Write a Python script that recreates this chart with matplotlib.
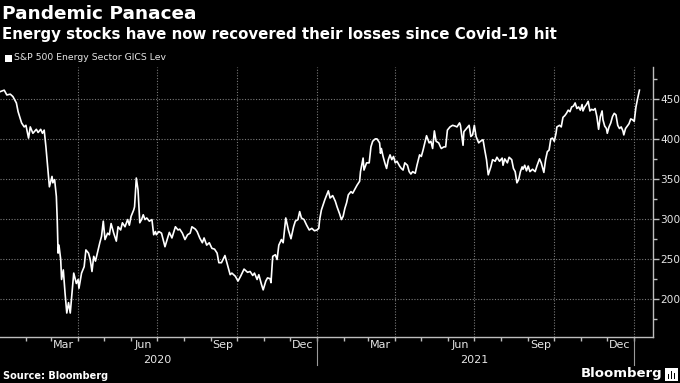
import matplotlib
matplotlib.use('Agg')
import matplotlib.pyplot as plt
import matplotlib.dates as mdates
import matplotlib.transforms as mtransforms
from matplotlib.patches import Rectangle
import pandas as pd

# S&P 500 Energy Sector GICS level
# day offsets counted from 2020-01-01
days = [1, 6, 9, 13, 16, 20, 22, 26, 29, 31, 34, 36, 39, 43, 45, 48, 50, 52, 54, 56,
        58, 61, 62, 64, 66, 67, 68, 69, 71, 72, 74, 76, 78, 80, 82, 84, 86, 89, 91, 92,
        95, 98, 100, 103, 105, 107, 109, 111, 114, 116, 118, 120, 122, 125, 127, 129, 132, 135, 137, 140,
        142, 145, 148, 150, 152, 155, 156, 158, 160, 162, 164, 166, 168, 170, 173, 176, 178, 180, 181, 184,
        187, 191, 196, 199, 203, 206, 208, 211, 214, 217, 220, 222, 226, 228, 231, 234, 236, 239, 242, 245,
        248, 251, 253, 256, 260, 263, 266, 268, 272, 275, 278, 282, 286, 289, 292, 294, 297, 299, 302, 304,
        307, 309, 312, 313, 315, 318, 320, 322, 325, 327, 330, 333, 336, 339, 341, 344, 346, 348, 351, 354,
        357, 360, 363, 366, 368, 369, 371, 375, 379, 381, 384, 387, 389, 392, 394, 396, 398, 400, 402, 405,
        407, 410, 412, 415, 416, 419, 420, 423, 426, 428, 430, 433, 435, 438, 439, 440, 442, 444, 446, 448,
        450, 452, 454, 456, 458, 461, 463, 465, 467, 470, 472, 474, 476, 479, 481, 484, 486, 488, 490, 492,
        495, 497, 499, 501, 503, 506, 508, 509, 512, 514, 516, 519, 522, 525, 527, 530, 531, 534, 535, 538,
        541, 543, 545, 547, 549, 552, 554, 557, 559, 561, 563, 566, 568, 571, 573, 576, 579, 580, 582, 585,
        587, 590, 592, 594, 596, 598, 600, 602, 603, 605, 607, 609, 611, 614, 617, 619, 622, 624, 626, 627,
        629, 631, 633, 635, 637, 639, 641, 642, 645, 647, 649, 651, 653, 655, 657, 659, 661, 663, 665, 667,
        669, 671, 672, 674, 676, 678, 680, 682, 684, 686, 688, 690, 692, 694, 695, 697, 699, 700, 702, 704,
        706, 708, 710, 712, 714, 716, 718, 719, 721, 723, 725, 727, 729, 731, 733, 735, 737]
level = [459, 461, 455, 456, 453, 445, 434, 420, 415, 417, 401, 415, 407, 412, 408, 412, 407, 411, 390, 365,
         340, 353, 345, 349, 328, 299, 257, 267, 249, 224, 236, 207, 182, 195, 182, 207, 232, 219, 224, 213,
         232, 240, 261, 257, 249, 234, 253, 247, 261, 270, 278, 297, 274, 282, 280, 294, 282, 272, 290, 286,
         295, 290, 299, 292, 303, 311, 315, 351, 336, 295, 299, 305, 299, 301, 297, 299, 280, 284, 280, 284,
         282, 265, 283, 276, 290, 286, 287, 282, 274, 280, 282, 290, 287, 284, 276, 270, 276, 267, 270, 263,
         262, 257, 245, 245, 254, 242, 230, 232, 228, 222, 228, 237, 233, 234, 229, 232, 224, 230, 218, 211,
         222, 226, 225, 220, 253, 255, 249, 267, 274, 270, 301, 286, 275, 290, 297, 299, 309, 301, 299, 292,
         286, 288, 285, 286, 288, 299, 311, 324, 335, 326, 329, 322, 315, 306, 299, 303, 313, 320, 330, 334,
         332, 338, 342, 347, 359, 376, 361, 370, 370, 390, 397, 400, 400, 395, 382, 388, 378, 370, 363, 374,
         380, 374, 378, 370, 372, 366, 363, 361, 370, 367, 359, 356, 359, 357, 367, 380, 378, 386, 395, 404,
         395, 397, 388, 410, 397, 395, 390, 388, 390, 390, 411, 415, 417, 416, 415, 420, 417, 392, 409, 413,
         417, 403, 405, 417, 403, 395, 397, 399, 386, 374, 355, 365, 374, 372, 377, 372, 376, 367, 375, 370,
         377, 374, 363, 359, 345, 349, 359, 365, 362, 367, 360, 366, 359, 362, 359, 366, 375, 370, 362, 358,
         374, 384, 386, 400, 401, 397, 407, 415, 417, 415, 427, 429, 432, 436, 434, 440, 441, 445, 438, 440,
         436, 443, 435, 440, 443, 447, 435, 437, 436, 438, 428, 412, 428, 435, 424, 416, 413, 407, 415, 420,
         428, 432, 430, 417, 413, 415, 410, 405, 413, 416, 419, 425, 424, 422, 440, 451, 461]

month_ticks = ['Mar', 'Jun', 'Sep', 'Dec']
years = ['2020', '2021']

title = 'Pandemic Panacea'
subtitle = 'Energy stocks have now recovered their losses since Covid-19 hit'
series_name = 'S&P 500 Energy Sector GICS Lev'

W, H = 680, 383
start = pd.Timestamp('2020-01-01')
dates = start + pd.to_timedelta(days, unit='D')

fig = plt.figure(figsize=(W / 100, H / 100), dpi=100, facecolor='black')
ax = fig.add_axes([0, 1 - 337 / H, 653 / W, 270 / H])
ax.set_facecolor('black')

ax.plot(dates, level, color='white', lw=1.2, solid_joinstyle='round')

ax.set_xlim(start + pd.Timedelta(days=1.15), start + pd.Timedelta(days=752.6))
ax.set_ylim(152, 490)

# spines
for s in ['top', 'left']:
    ax.spines[s].set_visible(False)
for s in ['bottom', 'right']:
    ax.spines[s].set_color('#bdbdbd')
    ax.spines[s].set_linewidth(1.0)

# y axis on the right
ax.yaxis.tick_right()
ax.yaxis.set_major_locator(matplotlib.ticker.MultipleLocator(50))
ax.yaxis.set_minor_locator(matplotlib.ticker.MultipleLocator(25))
ax.tick_params(axis='y', which='major', length=4, width=1, color='#bdbdbd',
               labelcolor='#e6e6e6', labelsize=7.6, pad=1)
ax.tick_params(axis='y', which='minor', length=3, width=1, color='#bdbdbd')

# x axis: monthly ticks, quarter-middle month labels
ax.xaxis.set_major_locator(mdates.MonthLocator())
ax.xaxis.set_major_formatter(matplotlib.ticker.NullFormatter())
ax.xaxis.set_minor_locator(mdates.MonthLocator(bymonth=[3, 6, 9, 12], bymonthday=15))
ax.xaxis.set_minor_formatter(mdates.DateFormatter('%b'))
ax.tick_params(axis='x', which='major', length=3, width=1, color='#bdbdbd')
ax.tick_params(axis='x', which='minor', length=0, labelcolor='#e6e6e6', labelsize=8, pad=2)

# grid: quarterly verticals, 50-step horizontals
for q in pd.date_range('2020-04-01', '2022-01-01', freq='QS'):
    ax.axvline(q, color='#7a7a7a', lw=0.8, ls=(0, (1, 1.5)), zorder=0)
for yv in range(200, 500, 50):
    ax.axhline(yv, color='#7a7a7a', lw=0.8, ls=(0, (1, 1.5)), zorder=0)

# year labels and separators
trans = mtransforms.blended_transform_factory(ax.transData, ax.transAxes)
for i, yr in enumerate(years):
    mid = pd.Timestamp(f'{yr}-07-01')
    ax.text(mid, -0.066, yr, transform=trans, ha='center', va='top',
            color='#e6e6e6', fontsize=8)
for sep in ['2021-01-01', '2022-01-01']:
    ax.plot([pd.Timestamp(sep)] * 2, [0, -0.105], transform=trans, color='#9a9a9a',
            lw=0.8, clip_on=False)

# titles
fig.text(2 / W, 1 - 14 / H, title, color='white', fontsize=13.3, fontweight='bold',
         ha='left', va='center')
fig.text(2 / W, 1 - 34 / H, subtitle, color='white', fontsize=10.8, fontweight='bold',
         ha='left', va='center')

# legend
fig.patches.append(Rectangle((5 / W, 1 - 62 / H), 7 / W, 7 / H, transform=fig.transFigure,
                             facecolor='white', edgecolor='none'))
fig.text(14 / W, 1 - 58 / H, series_name, color='#e6e6e6', fontsize=6.7,
         ha='left', va='center')

# footer
fig.text(3 / W, 1 - 376 / H, 'Source: Bloomberg', color='white', fontsize=7,
         fontweight='bold', ha='left', va='center')
fig.text(662 / W, 1 - 374 / H, 'Bloomberg', color='white', fontsize=9.5,
         fontweight='semibold', ha='right', va='center')
fig.patches.append(Rectangle((665 / W, 1 - 381 / H), 13 / W, 13 / H, transform=fig.transFigure,
                             facecolor='white', edgecolor='none'))
for bx, bh in [(667.5, 5), (670.5, 8), (673.5, 6)]:
    fig.patches.append(Rectangle((bx / W, 1 - 379 / H), 1.6 / W, bh / H, transform=fig.transFigure,
                                 facecolor='black', edgecolor='none'))

fig.savefig('out.png', dpi=100, facecolor='black')
